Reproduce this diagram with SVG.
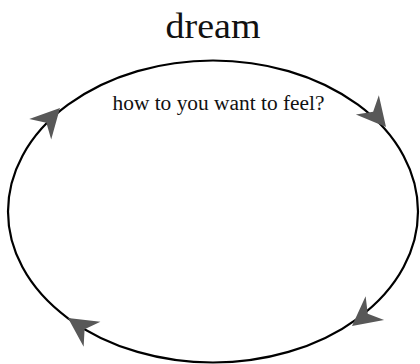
<svg xmlns="http://www.w3.org/2000/svg" width="420" height="364" viewBox="0 0 420 364">
<style>
.ring{fill:none;stroke:#000;stroke-width:2.2}
.head{fill:#585858}
.title{font-family:"Liberation Serif","DejaVu Serif",serif;font-size:36px;fill:#111;text-anchor:middle}
.label{font-family:"Liberation Serif","DejaVu Serif",serif;font-size:20px;fill:#111;text-anchor:middle}
</style>
<defs>
<polygon id="ah" points="0,0 -29,-15 -20,0 -29,15"/>
</defs>
<rect width="420" height="364" fill="#fff"/>
<g id="title"><text class="title" x="213" y="38" textLength="95" lengthAdjust="spacingAndGlyphs">dream</text></g>
<g id="cycle">
<ellipse class="ring" cx="213" cy="211.5" rx="205" ry="151"/>
<text class="label" x="218.5" y="110" textLength="212" lengthAdjust="spacingAndGlyphs">how to you want to feel?</text>
</g>
<g id="connectors">
<use href="#ah" class="head" transform="translate(60,108) rotate(-47)"/>
<use href="#ah" class="head" transform="translate(386,127) rotate(50)"/>
<use href="#ah" class="head" transform="translate(352,326) rotate(142)"/>
<use href="#ah" class="head" transform="translate(68,318) rotate(214)"/>
</g>
</svg>
